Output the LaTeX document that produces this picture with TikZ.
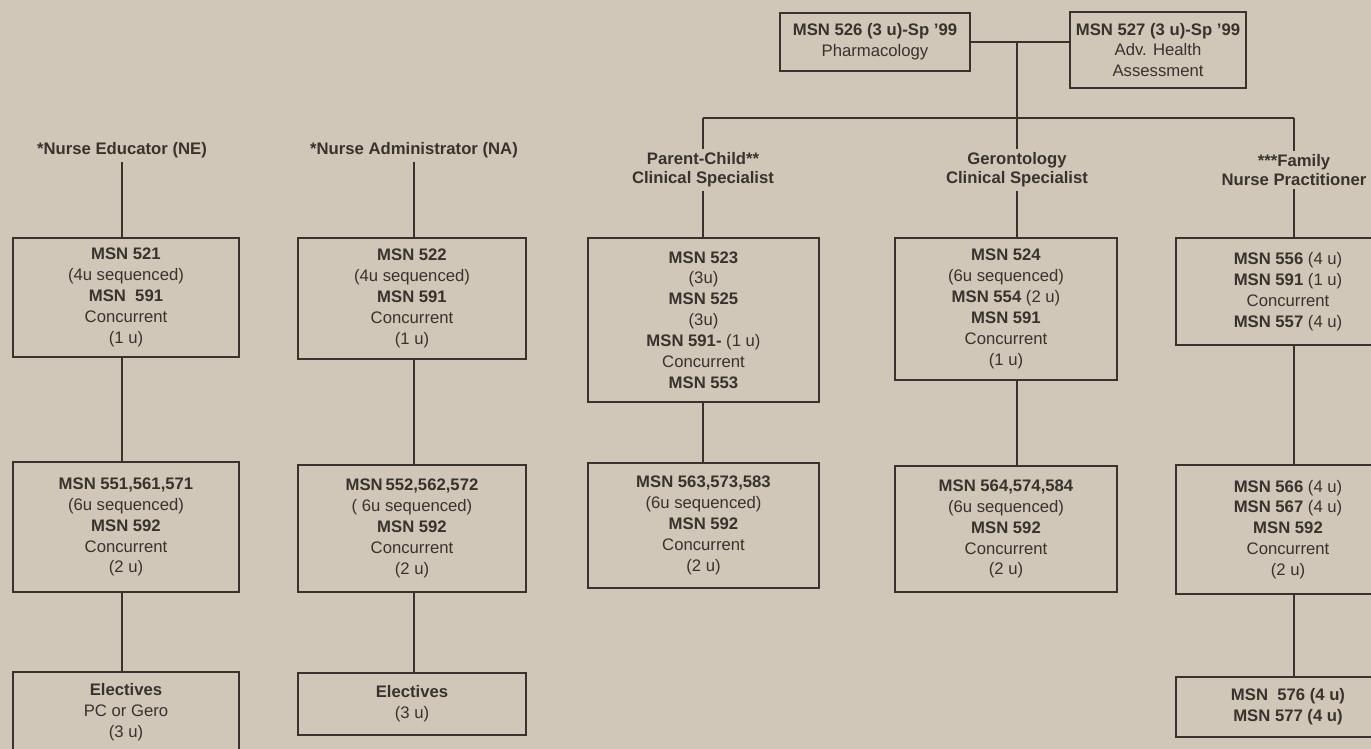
\documentclass[tikz,border=0pt]{standalone}
\usepackage{fontspec}
\setmainfont{Liberation Sans}
\usepackage{xcolor}
\usepackage{tikz}
\definecolor{paper}{HTML}{D0C7B8}
\definecolor{ink}{HTML}{39332D}

\begin{document}
\begin{tikzpicture}[
  x=0.02cm, y=-0.02cm,
  course/.style={draw=ink, line width=1.1pt, text=ink, align=center, inner sep=0pt, font=\fontsize{9.5}{11.9}\selectfont},
  sz/.style 2 args={minimum width=#1*0.02cm, minimum height=#2*0.02cm},
  track/.style={text=ink, align=center, inner sep=2pt, font=\bfseries\fontsize{9.5}{10.8}\selectfont},
  link/.style={draw=ink, line width=0.9pt}
]
\fill[paper] (0,0) rectangle (1371,749);
\useasboundingbox (0,0) rectangle (1371,749);
\clip (0,0) rectangle (1371,749);

% core courses
\node[course, sz={190}{58}] (c526) at (875,42) {\textbf{MSN 526 (3 u)-Sp '99}\\Pharmacology};
\node[course, sz={176}{76}] (c527) at (1158,50) {\textbf{MSN 527 (3 u)-Sp '99}\\Adv. Health\\Assessment};
\coordinate (jn) at (1017,42);
\coordinate (bar) at (1017,118);

% tracks
\node[track] (neL) at (122,150) {*Nurse Educator (NE)};
\node[track] (naL) at (414,150) {*Nurse Administrator (NA)};
\node[track] (pcL) at (703,170) {Parent-Child**\\Clinical Specialist};
\node[track] (geL) at (1017,170) {Gerontology\\Clinical Specialist};
\node[track] (faL) at (1294,170) {***Family\\Nurse Practitioner};

% first row
\node[course, sz={226}{119}] (ne1) at (126,297.5) {\textbf{MSN 521}\\(4u sequenced)\\\textbf{MSN\ \ 591}\\Concurrent\\(1 u)};
\node[course, sz={228}{121}] (na1) at (412,298.5) {\textbf{MSN 522}\\(4u sequenced)\\\textbf{MSN 591}\\Concurrent\\(1 u)};
\node[course, sz={231}{164}] (pc1) at (703.5,320) {\textbf{MSN 523}\\(3u)\\\textbf{MSN 525}\\(3u)\\\textbf{MSN 591-} (1 u)\\Concurrent\\\textbf{MSN 553}};
\node[course, sz={222}{142}] (ge1) at (1006,309) {\textbf{MSN 524}\\(6u sequenced)\\\textbf{MSN 554} (2 u)\\\textbf{MSN 591}\\Concurrent\\(1 u)};
\node[course, sz={224}{107}] (fa1) at (1288,291.5) {\textbf{MSN 556} (4 u)\\\textbf{MSN 591} (1 u)\\Concurrent\\\textbf{MSN 557} (4 u)};

% second row
\node[course, sz={226}{130}] (ne2) at (126,527) {\textbf{MSN 551,561,571}\\(6u sequenced)\\\textbf{MSN 592}\\Concurrent\\(2 u)};
\node[course, sz={228}{127}] (na2) at (412,528.5) {\textbf{MSN\,552,562,572}\\( 6u sequenced)\\\textbf{MSN 592}\\Concurrent\\(2 u)};
\node[course, sz={231}{125}] (pc2) at (703.5,525.5) {\textbf{MSN 563,573,583}\\(6u sequenced)\\\textbf{MSN 592}\\Concurrent\\(2 u)};
\node[course, sz={222}{126}] (ge2) at (1006,529) {\textbf{MSN 564,574,584}\\(6u sequenced)\\\textbf{MSN 592}\\Concurrent\\(2 u)};
\node[course, sz={224}{129}] (fa2) at (1288,529.5) {\textbf{MSN 566} (4 u)\\\textbf{MSN 567} (4 u)\\\textbf{MSN 592}\\Concurrent\\(2 u)};

% third row
\node[course, sz={226}{80}] (ne3) at (126,712) {\textbf{Electives}\\PC or Gero\\(3 u)};
\node[course, sz={228}{62}] (na3) at (412,704) {\textbf{Electives}\\(3 u)};
\node[course, sz={224}{60}] (fa3) at (1288,707) {\textbf{MSN\ \ 576 (4 u)}\\\textbf{MSN 577 (4 u)}};

% connectors
\draw[link] (c526.east) -- (c526.east -| c527.west);
\draw[link] (jn) -- (geL.north);
\draw[link] (pcL.north |- bar) -- (faL.north |- bar);
\draw[link] (pcL.north |- bar) -- (pcL.north);
\draw[link] (faL.north |- bar) -- (faL.north);

\draw[link] (neL.south) -- (neL.south |- ne1.north);
\draw[link] (naL.south) -- (naL.south |- na1.north);
\draw[link] (pcL.south) -- (pcL.south |- pc1.north);
\draw[link] (geL.south) -- (geL.south |- ge1.north);
\draw[link] (faL.south) -- (faL.south |- fa1.north);

\draw[link] (neL.south |- ne1.south) -- (neL.south |- ne2.north);
\draw[link] (naL.south |- na1.south) -- (naL.south |- na2.north);
\draw[link] (pcL.south |- pc1.south) -- (pcL.south |- pc2.north);
\draw[link] (geL.south |- ge1.south) -- (geL.south |- ge2.north);
\draw[link] (faL.south |- fa1.south) -- (faL.south |- fa2.north);

\draw[link] (neL.south |- ne2.south) -- (neL.south |- ne3.north);
\draw[link] (naL.south |- na2.south) -- (naL.south |- na3.north);
\draw[link] (faL.south |- fa2.south) -- (faL.south |- fa3.north);
\end{tikzpicture}
\end{document}
